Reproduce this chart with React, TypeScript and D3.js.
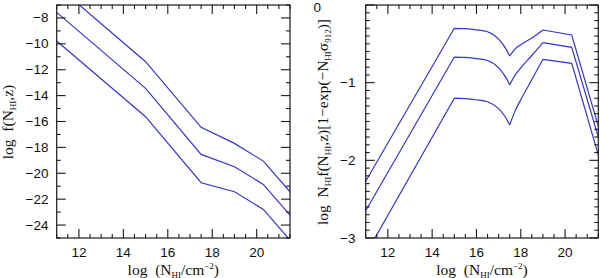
import React from 'react';
import * as d3 from 'd3';

// Left panel: log f(N_HI, z) at break points in log N_HI
const NH_LEFT = [11, 15, 17.5, 19, 20.3, 21.5];
const F_TOP = [-5.5, -11.38, -16.45, -17.69, -19.06, -21.43];
const F_MID = [-7.57, -13.44, -18.54, -19.49, -20.86, -23.23];
const F_BOT = [-9.78, -15.63, -20.73, -21.43, -22.79, -25.16];

// Right panel: log N f (1-exp(-N sigma))
const NH_RIGHT = [11, 15, 15.5, 16, 16.5, 17, 17.25, 17.4, 17.5, 17.75, 18, 18.5, 19, 20.3, 21.5];
const G_TOP = [-2.27, -0.30, -0.305, -0.32, -0.345, -0.44, -0.53, -0.60, -0.657, -0.565, -0.51, -0.425, -0.322, -0.386, -1.56];
const G_MID = [-2.65, -0.67, -0.675, -0.69, -0.715, -0.81, -0.9, -0.97, -1.03, -0.9, -0.81, -0.65, -0.485, -0.545, -1.70];
const G_BOT = [-3.21, -1.2, -1.205, -1.22, -1.245, -1.335, -1.42, -1.49, -1.545, -1.36, -1.22, -0.96, -0.70, -0.751, -1.93];
// break indices separating linear and curved pieces
const RIGHT_SEGMENTS = [[0, 1, 'linear'], [1, 8, 'smooth'], [8, 12, 'smooth'], [12, 14, 'linear']];

const X_TICKS = [12, 14, 16, 18, 20];
const LEFT_Y_TICKS = [-8, -10, -12, -14, -16, -18, -20, -22, -24];
const RIGHT_Y_TICKS = [0, -1, -2, -3];

const LINE = '#3535c8';
const FRAME = '#1a1a1a';
const SANS = '"Liberation Sans", Arial, sans-serif';
const SERIF = '"Liberation Serif", "Times New Roman", serif';
const MINUS = '\u2212';
const fmt = (v: number) => (v < 0 ? MINUS + Math.abs(v) : String(v));

const TOP = 5, BOTTOM = 238;
const LBL = 15.5;
const SUB = 9;

function Frame({ x, y, yMinor, yMajor }: any) {
  const [x0, x1] = x.range();
  const [y1, y0] = y.range();
  const xMinor = d3.range(11, 21.51, 0.5);
  const yMin = y.domain()[0], yMax = y.domain()[1];
  const yMinorVals = d3.range(Math.ceil(yMin / yMinor) * yMinor, yMax + 1e-9, yMinor);
  const ticks: React.ReactElement[] = [];
  xMinor.forEach((v, i) => {
    const major = X_TICKS.some(t => Math.abs(t - v) < 1e-6);
    const L = major ? 9 : 4;
    const px = x(v);
    ticks.push(<line key={'xb' + i} x1={px} x2={px} y1={y1} y2={y1 - L} />);
    ticks.push(<line key={'xt' + i} x1={px} x2={px} y1={y0} y2={y0 + L} />);
  });
  yMinorVals.forEach((v, i) => {
    const major = Math.abs(v / yMajor - Math.round(v / yMajor)) < 1e-6;
    const L = major ? 9 : 4;
    const py = y(v);
    ticks.push(<line key={'yl' + i} x1={x0} x2={x0 + L} y1={py} y2={py} />);
    ticks.push(<line key={'yr' + i} x1={x1} x2={x1 - L} y1={py} y2={py} />);
  });
  return (
    <g stroke={FRAME} strokeWidth={1.1} fill="none">
      {ticks}
      <rect x={x0} y={y0} width={x1 - x0} height={y1 - y0} strokeWidth={1.2} />
    </g>
  );
}

function XLabel({ cx }: { cx: number }) {
  return (
    <text x={cx} y={274.5} textAnchor="middle" fontFamily={SERIF} fontSize={LBL} fill="#111">
      log{'\u00a0\u00a0'}(N<tspan fontSize={SUB} dy={3}>HI</tspan><tspan dy={-3}>/cm</tspan><tspan fontSize={SUB} dy={-6}>{MINUS}2</tspan><tspan dy={6}>)</tspan>
    </text>
  );
}

export default function App() {
  const xL = d3.scaleLinear().domain([11, 21.5]).range([56.7, 290]);
  const yL = d3.scaleLinear().domain([-25, -7]).range([BOTTOM, TOP]);
  const xR = d3.scaleLinear().domain([11, 21.5]).range([365.7, 598.3]);
  const yR = d3.scaleLinear().domain([-3, 0]).range([BOTTOM, TOP]);

  const lineL = d3.line<number>().x((_, i) => xL(NH_LEFT[i])).y(d => yL(d));
  const rightPath = (vals: number[]) =>
    RIGHT_SEGMENTS.map(([a, b, kind]) => {
      const idx = d3.range(a as number, (b as number) + 1);
      const gen = d3.line<number>()
        .x(i => xR(NH_RIGHT[i]))
        .y(i => yR(vals[i]))
        .curve(kind === 'smooth' ? d3.curveMonotoneX : d3.curveLinear);
      return gen(idx);
    }).join('');

  return (
    <svg width={600} height={278} style={{ position: 'absolute', left: 0, top: 0, background: '#fff' }}>
      <defs>
        <clipPath id="clipL"><rect x={56.7} y={TOP} width={290 - 56.7} height={BOTTOM - TOP} /></clipPath>
        <clipPath id="clipR"><rect x={365.7} y={TOP} width={598.3 - 365.7} height={BOTTOM - TOP} /></clipPath>
      </defs>

      {/* Left panel */}
      <g clipPath="url(#clipL)" fill="none" stroke={LINE} strokeWidth={1.2}>
        {[F_TOP, F_MID, F_BOT].map((s, i) => <path key={i} d={lineL(s) || ''} />)}
      </g>
      <Frame x={xL} y={yL} yMinor={1} yMajor={2} />
      <g fontFamily={SANS} fontSize={13.5} fill="#111">
        {X_TICKS.map(t => (
          <text key={'lx' + t} x={xL(t)} y={256.5} textAnchor="middle">{t}</text>
        ))}
        {LEFT_Y_TICKS.map(t => (
          <text key={'ly' + t} x={48.5} y={yL(t)} textAnchor="end" dominantBaseline="central">{fmt(t)}</text>
        ))}
      </g>
      <XLabel cx={173.3} />
      <text transform={`translate(13,122) rotate(-90)`} textAnchor="middle" fontFamily={SERIF} fontSize={LBL} fill="#111">
        log{'\u00a0\u00a0'}f(N<tspan fontSize={SUB} dy={3}>HI</tspan><tspan dy={-3}>,z)</tspan>
      </text>

      {/* Right panel */}
      <g clipPath="url(#clipR)" fill="none" stroke={LINE} strokeWidth={1.2}>
        {[G_TOP, G_MID, G_BOT].map((s, i) => <path key={i} d={rightPath(s)} />)}
      </g>
      <Frame x={xR} y={yR} yMinor={0.1} yMajor={1} />
      <g fontFamily={SANS} fontSize={13.5} fill="#111">
        {X_TICKS.map(t => (
          <text key={'rx' + t} x={xR(t)} y={256.5} textAnchor="middle">{t}</text>
        ))}
        {RIGHT_Y_TICKS.map(t => (
          <text key={'ry' + t} x={t === 0 ? 321 : 355.5} y={t === 0 ? 7.5 : yR(t)} textAnchor="end" dominantBaseline="central">{fmt(t)}</text>
        ))}
      </g>
      <XLabel cx={482} />
      <text transform={`translate(328,122) rotate(-90)`} textAnchor="middle" fontFamily={SERIF} fontSize={LBL} fill="#111">
        log{'\u00a0\u00a0'}N<tspan fontSize={SUB} dy={3}>HI</tspan><tspan dy={-3}>f(N</tspan><tspan fontSize={SUB} dy={3}>HI</tspan><tspan dy={-3}>,z)[1{MINUS}exp({MINUS}N</tspan><tspan fontSize={SUB} dy={3}>HI</tspan><tspan dy={-3}>σ</tspan><tspan fontSize={SUB} dy={3}>912</tspan><tspan dy={-3}>)]</tspan>
      </text>
    </svg>
  );
}
